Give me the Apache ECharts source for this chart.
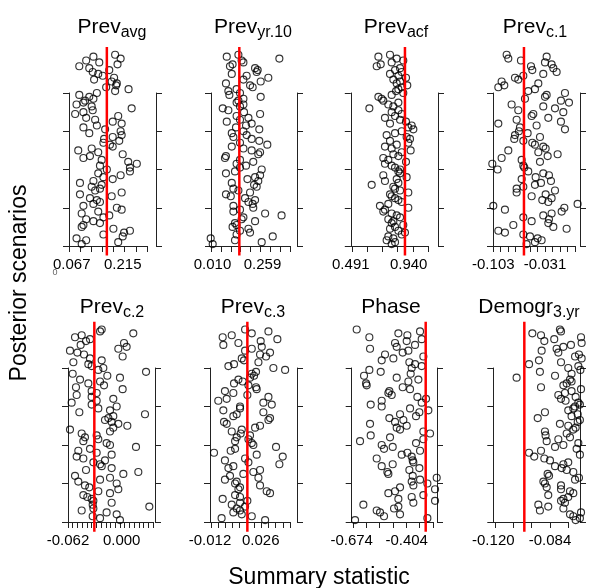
<!DOCTYPE html>
<html><head><meta charset="utf-8">
<script src="https://cdn.jsdelivr.net/npm/echarts@6/dist/echarts.min.js"></script>
<style>html,body{margin:0;padding:0;background:#fff}#c{width:591px;height:588px}</style>
</head><body><div id="c"></div>
<script>
// ---------- data ----------
const mainTitles = ['Prev','Prev','Prev','Prev','Prev','Prev','Phase','Demogr'];
const subTitles  = ['avg','yr.10','acf','c.1','c.2','c.3','','3.yr'];
const observed   = [0.169, 0.1436, 0.911, -0.0603, -0.0316, 0.016, -0.3107, -0.1003];
const labelValues = [[0.067,0.215],[0.010,0.259],[0.491,0.940],[-0.103,-0.031],[-0.062,0.000],[-0.012,0.026],[-0.674,-0.404],[-0.120,-0.084]];
const tickStart = [0.059165, 0.00253, 0.500306, -0.103418, -0.062, -0.0112505, -0.667618, -0.118920];
const tickStep  = [0.032336, 0.049178, 0.117876, 0.010381, 0.0054523, 0.0053828, 0.065455, 0.011589];
const tickCount = [8, 9, 6, 12, 19, 12, 7, 5];
const scenarioTicks = [0, 20, 40, 60, 80];
const obsLineSpan = [-5, 104];

const prevAvg = [0.096,0.202,0.109,0.081,0.215,0.159,0.219,0.236,0.188,0.096,0.101,0.149,0.130,0.109,0.159,0.176,0.096,0.144,0.212,0.198,
0.101,0.130,0.149,0.140,0.120,0.183,0.091,0.212,0.135,0.149,0.125,0.154,0.091,0.130,0.186,0.159,0.209,0.144,0.236,0.169,
0.236,0.149,0.256,0.231,0.154,0.101,0.120,0.215,0.144,0.086,0.125,0.186,0.178,0.159,0.205,0.161,0.186,0.212,0.118,0.209,
0.164,0.101,0.140,0.212,0.186,0.135,0.109,0.202,0.077,0.101,0.128,0.241,0.125,0.081,0.101,0.106,0.130,0.118,0.089,0.140,
0.193,0.232,0.167,0.196,0.198,0.183,0.132,0.190,0.157,0.144,0.128,0.176,0.118,0.089,0.200,0.147,0.109,0.209,0.130,0.193];
const prevYr10 = [0.011,0.255,0.122,0.001,0.310,0.130,0.197,0.147,0.189,0.110,0.130,0.122,0.222,0.155,0.164,0.354,0.272,0.114,0.147,0.213,
0.114,0.210,0.189,0.222,0.172,0.101,0.077,0.197,0.139,0.114,0.230,0.217,0.106,0.238,0.184,0.222,0.247,0.077,0.122,0.255,
0.147,0.177,0.130,0.213,0.147,0.072,0.077,0.238,0.247,0.205,0.164,0.106,0.283,0.147,0.243,0.205,0.114,0.180,0.106,0.164,
0.243,0.127,0.177,0.205,0.081,0.147,0.189,0.130,0.247,0.167,0.089,0.061,0.147,0.164,0.130,0.139,0.164,0.250,0.094,0.147,
0.089,0.130,0.210,0.197,0.077,0.250,0.164,0.288,0.180,0.106,0.230,0.235,0.222,0.097,0.110,0.164,0.155,0.343,0.081,0.139];
const prevAcf = [0.808,0.834,0.769,0.821,0.782,0.886,0.911,0.860,0.795,0.834,0.898,0.808,0.821,0.782,0.873,0.847,0.808,0.743,0.756,0.937,
0.717,0.782,0.886,0.860,0.834,0.808,0.795,0.937,0.873,0.834,0.821,0.653,0.860,0.756,0.847,0.924,0.743,0.873,0.860,0.873,
0.834,0.808,0.756,0.919,0.782,0.743,0.860,0.821,0.886,0.955,0.808,0.756,0.847,0.937,0.795,0.950,0.924,0.769,0.834,0.886,
0.976,0.937,0.963,0.795,0.919,0.873,0.756,0.834,0.886,0.808,0.860,0.635,0.821,0.782,0.860,0.743,0.730,0.705,0.808,0.898,
0.842,0.860,0.886,0.929,0.847,0.873,0.821,0.919,0.860,0.795,0.886,0.834,0.873,0.692,0.723,0.808,0.898,0.847,0.705,0.795];
const prevC1 = [-0.0566,-0.045,-0.0357,-0.0413,-0.0519,-0.0612,-0.0868,-0.096,-0.0009,-0.0194,-0.0751,-0.0264,-0.0496,-0.0255,-0.0612,-0.0334,-0.0218,-0.0078,-0.0868,-0.0041,
-0.103,0.0144,-0.0264,-0.0348,-0.0218,-0.0496,-0.0301,-0.0705,-0.0171,-0.0705,-0.0612,-0.045,-0.0366,-0.0227,-0.0635,-0.044,-0.0255,-0.0334,-0.0543,-0.097,
-0.0598,-0.0612,-0.1044,-0.038,-0.0635,-0.0914,-0.0273,-0.0134,-0.0403,-0.0821,-0.0301,-0.0334,-0.045,-0.0487,-0.0612,-0.0738,-0.038,-0.0728,-0.0552,-0.0673,
-0.0032,-0.0659,-0.0427,-0.096,-0.0088,-0.0705,-0.0264,-0.0496,-0.0473,-0.0055,-0.0682,-0.0171,-0.0334,-0.0775,0.0024,-0.0088,-0.0589,-0.031,-0.0287,-0.0032,
-0.0543,-0.045,-0.096,-0.0877,-0.0403,-0.0914,-0.0682,-0.0728,-0.0612,-0.0334,-0.0148,-0.0487,-0.0194,-0.0505,-0.0218,-0.031,-0.0645,-0.0821,-0.0287,-0.0844];
const prevC2 = [-0.0020,-0.0250,-0.0335,-0.0058,-0.0174,-0.0462,-0.0327,0.0319,-0.0335,-0.0116,-0.0327,-0.0347,-0.0397,-0.0443,-0.0135,-0.0270,-0.0039,-0.0374,-0.0424,-0.0058,
-0.0501,-0.0250,-0.0135,-0.0539,0.0019,0.0192,-0.0412,-0.0116,-0.0231,-0.0250,-0.0327,-0.0193,-0.0443,-0.0520,-0.0116,-0.0289,-0.0501,-0.0366,0.0165,-0.0135,
-0.0174,-0.0443,-0.0270,-0.0424,-0.0289,-0.0462,-0.0135,-0.0597,-0.0097,0.0065,-0.0039,-0.0116,-0.0193,-0.0154,-0.0097,0.0269,-0.0489,-0.0135,-0.0270,-0.0058,
-0.0347,-0.0578,-0.0289,-0.0097,-0.0347,-0.0520,-0.0289,-0.0347,0.0011,-0.0528,-0.0204,-0.0385,-0.0250,-0.0481,-0.0020,-0.0166,-0.0566,0.0281,-0.0270,-0.0212,
-0.0347,-0.0385,-0.0558,-0.0231,-0.0366,0.0011,-0.0435,-0.0512,-0.0597,-0.0039,0.0057,-0.0474,0.0027,-0.0412,-0.0366,-0.0539,-0.0462,0.0134,-0.0250,-0.0231];
const prevC3 = [0.0293,-0.0033,0.0193,0.0118,0.0055,0.0105,0.0080,0.0143,0.0043,0.0105,0.0160,-0.0025,0.0105,0.0068,0.0330,0.0305,0.0093,0.0105,0.0255,0.0068,
0.0080,-0.0008,0.0243,0.0030,0.0130,0.0205,0.0255,0.0018,0.0055,0.0400,0.0168,-0.0008,0.0143,0.0425,0.0230,-0.0090,0.0035,0.0068,0.0375,0.0205,
0.0193,0.0068,0.0168,0.0080,0.0180,0.0110,0.0043,0.0118,0.0218,0.0255,0.0005,-0.0015,0.0318,0.0330,0.0055,0.0080,0.0280,-0.0020,0.0105,0.0105,
0.0343,0.0280,-0.0058,0.0005,0.0318,0.0160,0.0055,-0.0008,0.0230,0.0225,0.0168,0.0060,0.0125,0.0093,0.0180,0.0210,0.0193,0.0225,0.0443,0.0355,
0.0018,0.0060,0.0243,0.0135,0.0118,0.0300,0.0255,0.0330,0.0143,0.0193,0.0268,-0.0020,0.0093,0.0260,0.0385,-0.0025,0.0043,0.0193,0.0318,0.0143];
const phase = [-0.6576,-0.3025,-0.5153,-0.4367,-0.5349,-0.5513,-0.4662,-0.4449,-0.6167,-0.3713,-0.2649,-0.4449,-0.3795,-0.3222,-0.4940,-0.4613,-0.2649,-0.4367,-0.3713,-0.3025,
-0.3795,-0.3385,-0.2567,-0.3745,-0.4940,-0.4989,-0.3909,-0.3418,-0.5267,-0.4727,-0.3713,-0.3745,-0.5513,-0.3795,-0.4285,-0.4007,-0.3385,-0.5153,-0.4727,-0.5267,
-0.3582,-0.6331,-0.3222,-0.4858,-0.5807,-0.2894,-0.3222,-0.4367,-0.4531,-0.4040,-0.5840,-0.4613,-0.4204,-0.4891,-0.3582,-0.4367,-0.3418,-0.2976,-0.3876,-0.5267,
-0.5807,-0.3304,-0.5267,-0.3091,-0.3516,-0.4776,-0.4940,-0.4891,-0.3876,-0.4236,-0.6004,-0.6036,-0.3958,-0.3467,-0.4531,-0.6135,-0.3844,-0.5316,-0.5873,-0.3795,
-0.3304,-0.3631,-0.3909,-0.5267,-0.4694,-0.3222,-0.5104,-0.4236,-0.3958,-0.5840,-0.4531,-0.3631,-0.4613,-0.4040,-0.3304,-0.5873,-0.4007,-0.4449,-0.3385,-0.6495];
const demogr3yr = [-0.0677,-0.0650,-0.0692,-0.0713,-0.0643,-0.0904,-0.0755,-0.0851,-0.0914,-0.0745,-0.0770,-0.0755,-0.0724,-0.0851,-0.0692,-0.0713,-0.0770,-0.0861,-0.0770,-0.0872,
-0.0882,-0.0681,-0.0656,-0.0846,-0.0855,-0.0692,-0.0734,-0.0766,-0.0808,-0.0755,-0.0724,-0.0840,-0.0876,-0.0940,-0.0650,-0.0973,-0.0897,-0.0671,-0.0808,-0.0755,
-0.0660,-0.0861,-0.0787,-0.0713,-0.0868,-0.0734,-0.0872,-0.0692,-0.0677,-0.0724,-0.0777,-0.0664,-0.0650,-0.0918,-0.0703,-0.0664,-0.0872,-0.0724,-0.0692,-0.0681,
-0.0650,-0.0660,-0.0741,-0.0770,-0.0677,-0.0787,-0.0745,-0.0703,-0.0643,-0.0897,-0.0755,-0.0734,-0.0703,-0.0713,-0.1052,-0.0808,-0.0703,-0.0904,-0.0647,-0.0724,
-0.0660,-0.0973,-0.0770,-0.0910,-0.0639,-0.0681,-0.0656,-0.0787,-0.0893,-0.0798,-0.0755,-0.0707,-0.0639,-0.0876,-0.0813,-0.0643,-0.0897,-0.0952,-0.0770,-0.0777];
const panelValues = [prevAvg, prevYr10, prevAcf, prevC1, prevC2, prevC3, phase, demogr3yr];

// ---------- layout (px) ----------
const panelLayout = [
  {left:69, width:78, offset:9, tx:112}, {left:211, width:79, offset:7, tx:253},
  {left:350.8, width:77.2, offset:10, tx:396}, {left:493, width:82, offset:5, tx:535},
  {left:68, width:85, offset:2, tx:112}, {left:210, width:80, offset:7, tx:253},
  {left:351.7, width:81.3, offset:4, tx:391}, {left:493.3, width:74.7, offset:12, tx:529}
];
const rowLayout = [{top:93, height:153, base:33}, {top:368, height:154, base:313}];
const FONT = '"Liberation Sans", Arial, Helvetica, sans-serif';
const AX = '#222';
const MAIN_FS = 21, SUB_FS = 16;

const mctx = document.createElement('canvas').getContext('2d');
function textW(t, fs) { mctx.font = fs + 'px ' + FONT; return mctx.measureText(t).width; }

const grids=[], xAxes=[], yAxes=[], series=[], graphics=[];
for (let k = 0; k < 8; k++) {
  const L = panelLayout[k], R = rowLayout[k < 4 ? 0 : 1];
  grids.push({left:L.left, width:L.width, top:R.top, height:R.height, containLabel:false, outerBoundsMode:'none'});
  const ticks = [];
  for (let j = 0; j < tickCount[k]; j++) ticks.push(tickStart[k] + j * tickStep[k]);
  xAxes.push({
    type:'value', gridIndex:k,
    min:Math.min(ticks[0], labelValues[k][0]), max:ticks[ticks.length-1],
    axisLine:{show:true, onZero:false, lineStyle:{color:AX, width:1}},
    axisTick:{show:true, customValues:ticks, length:6, lineStyle:{color:AX, width:1}},
    axisLabel:{show:true, customValues:labelValues[k], formatter:v => v.toFixed(3), margin:11, fontSize:15, color:'#000', fontFamily:FONT},
    splitLine:{show:false}
  });
  const yBase = {
    type:'value', gridIndex:k, min:0, max:80,
    axisLine:{show:true, onZero:false, lineStyle:{color:AX, width:1}},
    axisTick:{show:true, customValues:scenarioTicks, length:6, lineStyle:{color:AX, width:1}},
    axisLabel:{show:false}, splitLine:{show:false}
  };
  yAxes.push(Object.assign({}, yBase, {position:'left'}));
  yAxes.push(Object.assign({}, yBase, {position:'right', offset:L.offset}));
  series.push({
    type:'scatter', xAxisIndex:k, yAxisIndex:2*k, clip:false, silent:true,
    data: panelValues[k].map((v, i) => [v, i + 1]),
    symbol:'circle', symbolSize:7,
    itemStyle:{color:'rgba(0,0,0,0)', borderColor:'#000', borderWidth:1.15},
    emphasis:{disabled:true}, z:2
  });
  series.push({
    type:'line', xAxisIndex:k, yAxisIndex:2*k, clip:false, silent:true,
    data:[[observed[k], obsLineSpan[0]], [observed[k], obsLineSpan[1]]],
    symbol:'none', lineStyle:{color:'#ff0000', width:2.5}, z:5, animation:false
  });
  // title: main text + subscript
  const wm = textW(mainTitles[k], MAIN_FS), ws = subTitles[k] ? textW(subTitles[k], SUB_FS) : 0;
  const x0 = L.tx - (wm + ws) / 2;
  graphics.push({type:'text', x:x0, y:R.base + 0.212 * MAIN_FS, silent:true,
    style:{text:mainTitles[k], fontSize:MAIN_FS, fontFamily:FONT, fill:'#000', align:'left', verticalAlign:'bottom'}});
  if (subTitles[k]) {
    graphics.push({type:'text', x:x0 + wm, y:R.base + 4 + 0.212 * SUB_FS, silent:true,
      style:{text:subTitles[k], fontSize:SUB_FS, fontFamily:FONT, fill:'#000', align:'left', verticalAlign:'bottom'}});
  }
}
graphics.push({type:'text', x:20, y:283, rotation:Math.PI/2, silent:true,
  style:{text:'Posterior scenarios', fontSize:23, fontFamily:FONT, fill:'#000', align:'center', verticalAlign:'middle'}});
graphics.push({type:'text', x:319, y:578, silent:true,
  style:{text:'Summary statistic', fontSize:23, fontFamily:FONT, fill:'#000', align:'center', verticalAlign:'middle'}});
graphics.push({type:'text', x:55, y:273, silent:true,
  style:{text:'0', fontSize:9, fontFamily:FONT, fill:'#666', align:'center', verticalAlign:'middle'}});

const chart = echarts.init(document.getElementById('c'), null, {renderer:'canvas'});
chart.setOption({
  animation:false, backgroundColor:'#fff',
  grid:grids, xAxis:xAxes, yAxis:yAxes, series:series, graphic:graphics
});
</script></body></html>
